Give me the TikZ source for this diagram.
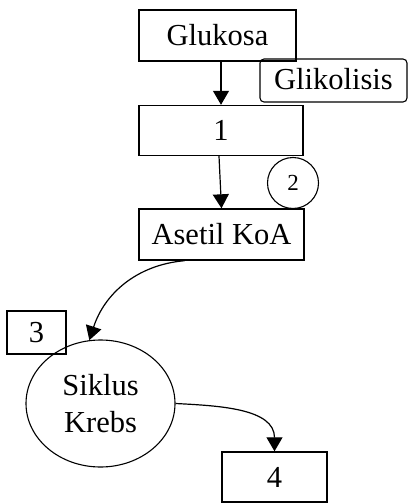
\documentclass[tikz,border=0pt]{standalone}
\usepackage{fontspec}
\setmainfont{Liberation Serif}
\usetikzlibrary{arrows.meta,shapes.geometric}

\begin{document}
\begin{tikzpicture}[x=1pt,y=-1pt,
  every node/.style={font=\fontsize{30.5}{37}\selectfont, inner sep=0pt},
  box/.style={draw, line width=1.4pt},
  arr/.style={line width=1.2pt, -{Triangle[width=16pt,length=14pt]}}]
\useasboundingbox (0,0) rectangle (407,503);

% main chain
\node[box, minimum width=157pt, minimum height=51pt] (glu) at (217.5,35.5) {Glukosa};
\node[draw, line width=1.1pt, rounded corners=4pt, minimum width=147pt, minimum height=43pt,
      text depth=3pt] (gli) at (333.5,80.5) {Glikolisis};
\node[box, minimum width=164pt, minimum height=50pt] (one) at (221,130.5) {1};
\node[draw, circle, line width=1.1pt, minimum size=51pt,
      font=\fontsize{23}{26}\selectfont] (two) at (293,183) {2};
\node[box, minimum width=165pt, minimum height=51pt] (aset) at (221.5,234.5) {Asetil KoA};

% Krebs cycle part
\node[box, minimum width=59pt, minimum height=43pt] (three) at (36.5,332.5) {3};
\node[draw, ellipse, line width=1.1pt, minimum width=149pt, minimum height=127pt,
      align=center] (krebs) at (100.5,403.5) {Siklus\\Krebs};
\node[box, minimum width=105pt, minimum height=50pt] (four) at (274.5,477) {4};

% connectors
\draw[arr] (glu.south -| one) -- (one.north);
\draw[arr] ([xshift=-2pt]one.south) -- (aset.north);
\draw[arr] ([xshift=-37pt]aset.south) to[out=185, in=72] (krebs.100);
\draw[arr] (krebs.east) to[out=-3, in=90] (four.north);
\end{tikzpicture}
\end{document}
